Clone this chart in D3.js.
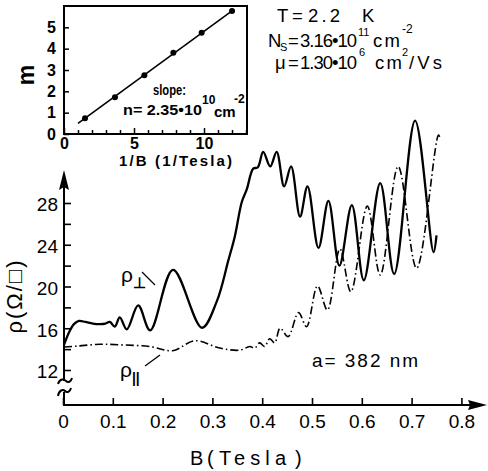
<!DOCTYPE html>
<html><head><meta charset="utf-8">
<script src="https://cdn.jsdelivr.net/npm/d3@7"></script>
<style>body{margin:0;background:#fff} svg{display:block} text{font-family:"Liberation Sans",Arial,sans-serif;fill:#000}</style>
</head><body>
<svg id="c" width="488" height="471"></svg>
<script>
// ---- data ----
const perpB   = [0.002,0.012,0.022,0.032,0.045,0.060,0.075,0.085,0.094,0.104,0.114,0.128,0.151,0.175,0.221,0.279,0.309,0.332,0.345,0.359,0.369,0.382,0.391,0.402,0.416,0.429,0.444,0.458,0.476,0.491,0.513,0.533,0.555,0.580,0.604,0.637,0.665,0.707,0.744,0.750];
const perpRho = [14.4, 15.6, 16.4, 16.7, 16.6, 16.45,16.4, 16.45,16.6, 16.15,17.05,15.9, 18.2, 15.8, 21.6, 16.05,18.6, 22.5, 24.8, 28.1, 29.3, 31.3, 31.4, 32.9, 31.5, 32.9, 29.6, 31.5, 26.7, 29.6, 23.7, 28.2, 22.0, 27.8, 20.6, 29.9, 21.2, 35.9, 23.3, 24.9];
const parB    = [0.002,0.030,0.075,0.120,0.175,0.220,0.265,0.315,0.355,0.375,0.385,0.395,0.405,0.415,0.425,0.436,0.452,0.473,0.489,0.511,0.531,0.556,0.578,0.611,0.637,0.673,0.710,0.754,0.758];
const parRho  = [14.2, 14.3, 14.47,14.4, 14.25,13.85,14.8, 14.1, 13.9, 14.25,14.1, 14.6, 14.25,15.0, 14.6, 16.0, 15.2, 17.5, 16.15,20.05,17.75,23.6, 19.5, 27.7, 21.1, 31.5, 21.75,34.5, 34.1];
const xTicks  = [0,0.1,0.2,0.3,0.4,0.5,0.6,0.7,0.8];
const yTicks  = [12,16,20,24,28];
const yMinor  = [14,18,22,26];
// inset: Landau level index m vs 1/B
const insetInvB = [1.5, 3.64, 5.74, 7.81, 9.83, 12.0];
const insetM    = [0.74, 1.72, 2.75, 3.81, 4.75, 5.77];
const fitInvB   = [1.0, 12.0];
const fitM      = [0.50, 5.77];
const insetXMajor = [0,5,10];
const insetXMinor = [1,2,3,4,6,7,8,9,11,12,13];
const insetYTicks = [0,1,2,3,4,5];

const svg = d3.select("#c");
const FONT = "Liberation Sans, Arial, sans-serif";
const x = d3.scaleLinear().domain([0,0.8]).range([63,461.4]);
const y = d3.scaleLinear().domain([12,28]).range([370,203]);
const axisY0 = 405; // pixel of the (broken) y-axis bottom

// ---- main x axis ----
const gx = svg.append("g").attr("transform",`translate(0,${axisY0})`)
  .call(d3.axisBottom(x).tickValues(xTicks).tickSize(-7).tickPadding(10)
    .tickFormat(d=> d===0 ? "0" : d3.format(".1f")(d)));
gx.select(".domain").remove();
gx.selectAll(".tick line").attr("stroke","#000").attr("stroke-width",1.6);
gx.selectAll(".tick text").attr("font-size",19).attr("font-family",FONT);
svg.append("line").attr("x1",63).attr("x2",472).attr("y1",axisY0).attr("y2",axisY0).attr("stroke","#000").attr("stroke-width",2);
svg.append("path").attr("d",`M487,${axisY0} L468,${axisY0-5} L470,${axisY0} L468,${axisY0+5} Z`).attr("fill","#000");

// ---- main y axis ----
const gy = svg.append("g").attr("transform","translate(64,0)")
  .call(d3.axisLeft(y).tickValues(yTicks).tickSize(-7).tickPadding(6).tickFormat(d3.format("d")));
gy.select(".domain").remove();
gy.selectAll(".tick line").attr("stroke","#000").attr("stroke-width",1.6);
gy.selectAll(".tick text").attr("font-size",19).attr("dy","0.42em").attr("font-family",FONT);
const gym = svg.append("g").attr("transform","translate(64,0)")
  .call(d3.axisLeft(y).tickValues(yMinor).tickSize(-7).tickFormat(""));
gym.select(".domain").remove();
gym.selectAll(".tick line").attr("stroke","#000").attr("stroke-width",1.6);
// axis line with break
svg.append("line").attr("x1",64).attr("x2",64).attr("y1",186).attr("y2",381).attr("stroke","#000").attr("stroke-width",2);
svg.append("line").attr("x1",64).attr("x2",64).attr("y1",392).attr("y2",axisY0).attr("stroke","#000").attr("stroke-width",2);
svg.append("path").attr("d","M64,170 L59,190 L64,187 L69,190 Z").attr("fill","#000");
svg.append("path").attr("d","M58,384 C60,378 64,379 66,381 C68,383 71,382 72,378").attr("fill","none").attr("stroke","#000").attr("stroke-width",2);
svg.append("path").attr("d","M58,396 C59,390 63,389 65,391 C67,393 70,392 71,388").attr("fill","none").attr("stroke","#000").attr("stroke-width",2);

// ---- curves ----
const line = d3.line().curve(d3.curveCatmullRom.alpha(0.5));
svg.append("path")
  .attr("d", line(perpB.map((b,i)=>[x(b), y(perpRho[i])])))
  .attr("fill","none").attr("stroke","#000").attr("stroke-width",2.3).attr("stroke-linejoin","round");
svg.append("path")
  .attr("d", line(parB.map((b,i)=>[x(b), y(parRho[i])])))
  .attr("fill","none").attr("stroke","#000").attr("stroke-width",1.6)
  .attr("stroke-dasharray","8,3,1.5,3");

// ---- main labels ----
const bl = svg.append("text").attr("y",465).attr("font-size",20);
bl.append("tspan").attr("x",190).text("B");
bl.append("tspan").attr("x",207).text("(");
bl.append("tspan").attr("x",219).attr("textLength",67).attr("lengthAdjust","spacing").text("Tesla");
bl.append("tspan").attr("x",295).text(")");
svg.append("text").attr("transform","translate(22,296) rotate(-90)").attr("text-anchor","middle")
  .attr("font-size",22).attr("letter-spacing","2px").text("ρ(Ω/□)");

// curve labels
const lp = svg.append("text").attr("x",121).attr("y",282).attr("font-size",21);
lp.append("tspan").text("ρ");
lp.append("tspan").attr("dy",6).attr("font-size",15).attr("font-weight","bold").text("⊥");
svg.append("line").attr("x1",142).attr("y1",272).attr("x2",155).attr("y2",285).attr("stroke","#000").attr("stroke-width",1.3);
const lq = svg.append("text").attr("x",120).attr("y",377).attr("font-size",21);
lq.append("tspan").text("ρ");
lq.append("tspan").attr("dy",6).attr("font-size",14).attr("font-weight","bold").text("||");
svg.append("line").attr("x1",145).attr("y1",366).attr("x2",160).attr("y2",355).attr("stroke","#000").attr("stroke-width",1.3);

svg.append("text").attr("x",312).attr("y",367).attr("font-size",19)
  .attr("textLength",106).attr("lengthAdjust","spacing").text("a= 382 nm");

// ---- parameters text ----
const fs = 18.5;
const t1 = svg.append("text").attr("y",22).attr("font-size",fs);
t1.append("tspan").attr("x",277).text("T");
t1.append("tspan").attr("x",292).text("=");
t1.append("tspan").attr("x",308).attr("textLength",32).attr("lengthAdjust","spacing").text("2.2");
t1.append("tspan").attr("x",362).text("K");
const t2 = svg.append("text").attr("y",47).attr("font-size",fs);
t2.append("tspan").attr("x",268).text("N");
t2.append("tspan").attr("x",280).attr("dy",4).attr("font-size",11).text("S");
t2.append("tspan").attr("x",288).attr("dy",-4).text("=");
t2.append("tspan").attr("x",300).attr("textLength",57).attr("lengthAdjust","spacing").text("3.16•10");
t2.append("tspan").attr("x",358).attr("dy",-11).attr("font-size",11).text("11");
t2.append("tspan").attr("x",373).attr("dy",11).attr("textLength",27).attr("lengthAdjust","spacing").text("cm");
t2.append("tspan").attr("x",402).attr("dy",-14).attr("font-size",12).text("-2");
const t3 = svg.append("text").attr("y",69).attr("font-size",fs);
t3.append("tspan").attr("x",275).text("μ");
t3.append("tspan").attr("x",288).text("=");
t3.append("tspan").attr("x",300).attr("textLength",57).attr("lengthAdjust","spacing").text("1.30•10");
t3.append("tspan").attr("x",359).attr("dy",-13).attr("font-size",11).text("6");
t3.append("tspan").attr("x",375).attr("dy",13).attr("textLength",27).attr("lengthAdjust","spacing").text("cm");
t3.append("tspan").attr("x",402).attr("dy",-13).attr("font-size",11).text("2");
t3.append("tspan").attr("x",409).attr("dy",13).attr("textLength",33).attr("lengthAdjust","spacing").text("/Vs");

// ---- inset ----
const ix = d3.scaleLinear().domain([0,13.07]).range([64,247]);
const iy = d3.scaleLinear().domain([0,6]).range([134,6]);
svg.append("rect").attr("x",ix(0)).attr("y",iy(6)).attr("width",ix(13.07)-ix(0)).attr("height",iy(0)-iy(6))
  .attr("fill","none").attr("stroke","#000").attr("stroke-width",2);
const ixa = svg.append("g").attr("transform",`translate(0,${iy(0)})`)
  .call(d3.axisBottom(ix).tickValues(insetXMajor).tickSize(-6).tickPadding(4).tickFormat(d3.format("d")));
ixa.select(".domain").remove();
ixa.selectAll(".tick line").attr("stroke","#000").attr("stroke-width",1.5);
ixa.selectAll(".tick text").attr("font-size",16).attr("font-weight","bold").attr("font-family",FONT);
const ixm = svg.append("g").attr("transform",`translate(0,${iy(0)})`)
  .call(d3.axisBottom(ix).tickValues(insetXMinor).tickSize(-4).tickFormat(""));
ixm.select(".domain").remove();
ixm.selectAll(".tick line").attr("stroke","#000").attr("stroke-width",1.5);
const iya = svg.append("g").attr("transform",`translate(${ix(0)},0)`)
  .call(d3.axisLeft(iy).tickValues(insetYTicks).tickSize(-5).tickPadding(8).tickFormat(d3.format("d")));
iya.select(".domain").remove();
iya.selectAll(".tick line").attr("stroke","#000").attr("stroke-width",1.5);
iya.selectAll(".tick text").attr("font-size",16).attr("font-weight","bold").attr("font-family",FONT);

svg.append("path").attr("d", d3.line()(fitInvB.map((v,i)=>[ix(v), iy(fitM[i])])))
  .attr("stroke","#000").attr("stroke-width",1.6).attr("fill","none");
svg.selectAll("circle.pt").data(insetInvB).join("circle").attr("class","pt")
  .attr("cx",d=>ix(d)).attr("cy",(d,i)=>iy(insetM[i])).attr("r",3).attr("fill","#000");

svg.append("text").attr("transform","translate(34,75) rotate(-90)").attr("text-anchor","middle")
  .attr("font-size",23).attr("font-weight","bold").text("m");
svg.append("text").attr("x",119).attr("y",166).attr("font-size",15).attr("font-weight","bold")
  .attr("textLength",113).attr("lengthAdjust","spacing").text("1/B (1/Tesla)");
svg.append("text").attr("x",153).attr("y",95).attr("font-size",15).attr("font-weight","bold")
  .attr("textLength",33).attr("lengthAdjust","spacingAndGlyphs").text("slope:");
const sl = svg.append("text").attr("y",115).attr("font-size",15).attr("font-weight","bold");
sl.append("tspan").attr("x",123).attr("textLength",79).attr("lengthAdjust","spacingAndGlyphs").text("n= 2.35•10");
sl.append("tspan").attr("x",202).attr("dy",-11).attr("font-size",12).text("10");
sl.append("tspan").attr("x",214).attr("dy",13).text("cm");
sl.append("tspan").attr("x",234).attr("dy",-14).attr("font-size",12).text("-2");
</script>
</body></html>
